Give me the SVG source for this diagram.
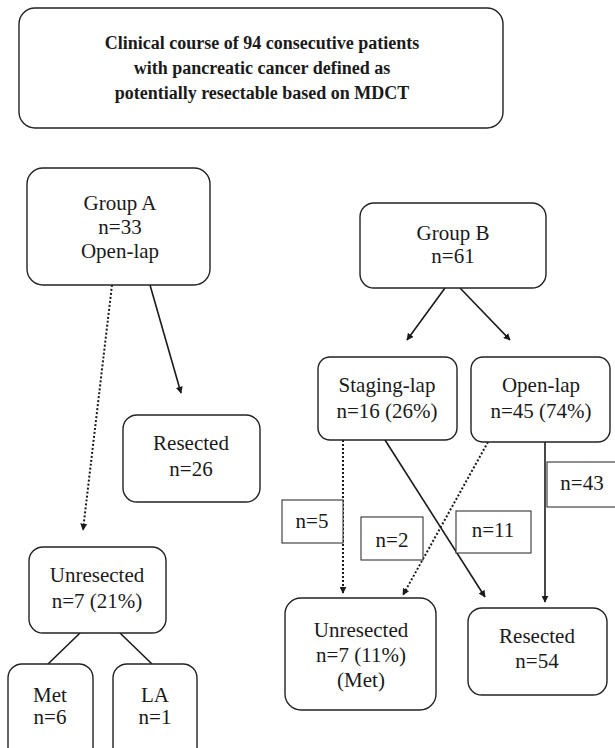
<svg xmlns="http://www.w3.org/2000/svg" width="615" height="748" viewBox="0 0 615 748">
<style>
text{font-family:'Liberation Serif','Times New Roman',serif;font-size:21px;fill:#1a1a1a;text-anchor:middle}
.title{font-weight:bold;font-size:18px}
.box{fill:#fff;stroke:#222;stroke-width:1.4}
.lbl{fill:#fff;stroke:#333;stroke-width:1.1}
.solid{stroke:#1a1a1a;stroke-width:1.6;fill:none}
.dot{stroke:#1a1a1a;stroke-width:2;fill:none;stroke-dasharray:2,2}
</style>
<defs>
<marker id="ah" viewBox="0 0 10 10" refX="9" refY="5" markerWidth="7" markerHeight="7" markerUnits="userSpaceOnUse" orient="auto">
<path d="M0,0 L10,5 L0,10 z" fill="#1a1a1a"/>
</marker>
</defs>
<rect width="615" height="748" fill="#fff"/>
<g id="title">
<rect class="box" x="19" y="8" width="484" height="120" rx="16"/>
<text class="title" x="262" y="49">Clinical course of 94 consecutive patients</text>
<text class="title" x="262" y="74">with pancreatic cancer defined as</text>
<text class="title" x="262" y="99">potentially resectable based on MDCT</text>
</g>
<g id="connectors">
<path class="dot" d="M112,285 L83,530" marker-end="url(#ah)"/>
<path class="dot" d="M343,440 L343,593" marker-end="url(#ah)"/>
<path class="dot" d="M488,442 L403,595" marker-end="url(#ah)"/>
<path class="solid" d="M150,285 L181,393" marker-end="url(#ah)"/>
<path class="solid" d="M80,633 L48,664"/>
<path class="solid" d="M120,633 L152,664"/>
<path class="solid" d="M445,288 L407,340" marker-end="url(#ah)"/>
<path class="solid" d="M460,288 L510,340" marker-end="url(#ah)"/>
<path class="solid" d="M385,440 L485,597" marker-end="url(#ah)"/>
<path class="solid" d="M545,442 L545,602" marker-end="url(#ah)"/>
</g>
<g id="groupA">
<rect class="box" x="27" y="168" width="183" height="117" rx="16"/>
<text x="120" y="210">Group A</text>
<text x="120" y="234">n=33</text>
<text x="120" y="258">Open-lap</text>
</g>
<g id="resectedA">
<rect class="box" x="123" y="415" width="137" height="87" rx="14"/>
<text x="191" y="450">Resected</text>
<text x="191" y="476">n=26</text>
</g>
<g id="unresectedA">
<rect class="box" x="29" y="547" width="137" height="86" rx="14"/>
<text x="97" y="582">Unresected</text>
<text x="97" y="608">n=7 (21%)</text>
</g>
<g id="met">
<rect class="box" x="8" y="664" width="85" height="100" rx="14"/>
<text x="50" y="702">Met</text>
<text x="50" y="724">n=6</text>
</g>
<g id="la">
<rect class="box" x="113" y="664" width="84" height="100" rx="14"/>
<text x="155" y="702">LA</text>
<text x="155" y="724">n=1</text>
</g>
<g id="groupB">
<rect class="box" x="360" y="203" width="186" height="85" rx="14"/>
<text x="453" y="240">Group B</text>
<text x="453" y="263">n=61</text>
</g>
<g id="stagingLap">
<rect class="box" x="318" y="357" width="139" height="83" rx="12"/>
<text x="387" y="392">Staging-lap</text>
<text x="387" y="418">n=16 (26%)</text>
</g>
<g id="openLapB">
<rect class="box" x="471" y="357" width="139" height="85" rx="12"/>
<text x="541" y="392">Open-lap</text>
<text x="541" y="418">n=45 (74%)</text>
</g>
<g id="n5">
<rect class="lbl" x="282" y="500" width="61" height="43"/>
<text x="312" y="528">n=5</text>
</g>
<g id="n2">
<rect class="lbl" x="361" y="517" width="62" height="43"/>
<text x="392" y="547">n=2</text>
</g>
<g id="n11">
<rect class="lbl" x="456" y="511" width="75" height="42"/>
<text x="493" y="537">n=11</text>
</g>
<g id="n43">
<rect class="lbl" x="547" y="462" width="80" height="45"/>
<text x="582" y="490">n=43</text>
</g>
<g id="unresectedB">
<rect class="box" x="285" y="598" width="151" height="112" rx="16"/>
<text x="361" y="637">Unresected</text>
<text x="361" y="662">n=7 (11%)</text>
<text x="361" y="687">(Met)</text>
</g>
<g id="resectedB">
<rect class="box" x="468" y="608" width="139" height="87" rx="14"/>
<text x="537" y="643">Resected</text>
<text x="537" y="668">n=54</text>
</g>
</svg>
